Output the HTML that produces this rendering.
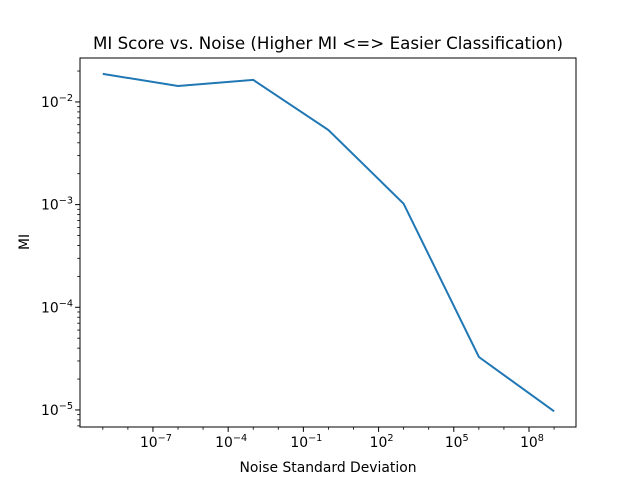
<!DOCTYPE html>
<html><head><meta charset="utf-8"><style>
body{margin:0;background:#fff;}
svg text{font-family:"DejaVu Sans","Liberation Sans",sans-serif;fill:#000;}
</style></head><body>
<svg id="chart" width="640" height="480" xmlns="http://www.w3.org/2000/svg">
<rect width="640" height="480" fill="#fff"/>
<text x="328" y="49" font-size="16.7" text-anchor="middle">MI Score vs. Noise (Higher MI &lt;=&gt; Easier Classification)</text>
<g id="ticks"></g>
<polyline id="line" fill="none" stroke="#1f77b4" stroke-width="2"/>
<rect x="80" y="58" width="496" height="369" fill="none" stroke="#000" stroke-width="1"/>
<text x="328" y="472" font-size="13.9" text-anchor="middle">Noise Standard Deviation</text>
<text transform="translate(29,242) rotate(-90)" font-size="13.9" text-anchor="middle">MI</text>
</svg>
<script>
const noiseStd=[1e-9,1e-6,1e-3,1,1e3,1e6,1e9];
const miValues=[0.01875,0.0143,0.0164,0.00533,0.00102,3.28e-5,0.97e-5];
const xTickExps=[-7,-4,-1,2,5,8];
const yTickExps=[-5,-4,-3,-2];
const X0=80,X1=576,Y0=58,Y1=427;
const xmin=-9.91,xmax=9.875,ymin=-5.166,ymax=-1.572;
function xs(v){return X0+(Math.log10(v)-xmin)/(xmax-xmin)*(X1-X0);}
function ys(v){return Y1-(Math.log10(v)-ymin)/(ymax-ymin)*(Y1-Y0);}
const NS="http://www.w3.org/2000/svg";
const g=document.getElementById('ticks');
function mk(t,a){const e=document.createElementNS(NS,t);for(const k in a)e.setAttribute(k,a[k]);g.appendChild(e);return e;}
function label(txt,x,y,anchor){
  const t=mk('text',{x:x,y:y,'font-size':13.9,'text-anchor':anchor});
  
  
  const b=document.createElementNS(NS,'tspan');b.textContent='10';t.appendChild(b);
  const s=document.createElementNS(NS,'tspan');s.setAttribute('dy','-6');s.setAttribute('font-size','9.7');s.textContent=txt;t.appendChild(s);
}
xTickExps.forEach(e=>{
  const x=xs(Math.pow(10,e));
  const l=mk('line',{x1:x,x2:x,y1:Y1,y2:Y1+4.9,stroke:'#000','stroke-width':1});
  
  
  label(e<0?'\u2212'+(-e):''+e,x+3,Y1+20,'middle');
});
for(let e=-10;e<=10;e++){const x=xs(Math.pow(10,e));if(x>X0&&x<X1&&!xTickExps.includes(e)){const l=mk('line',{x1:x,x2:x,y1:Y1,y2:Y1+2.8,stroke:'#000','stroke-width':0.8});}}
yTickExps.forEach(e=>{
  const y=ys(Math.pow(10,e));
  const l=mk('line',{x1:X0-4.9,x2:X0,y1:y,y2:y,stroke:'#000','stroke-width':1});
  
  
  label('\u2212'+(-e),X0-7,y+5,'end');
});
for(let e=-6;e<=-1;e++)for(let m=2;m<10;m++){const v=m*Math.pow(10,e);const y=ys(v);if(y>Y0&&y<Y1){const l=mk('line',{x1:X0-2.8,x2:X0,y1:y,y2:y,stroke:'#000','stroke-width':0.8});}}
document.getElementById('line').setAttribute('points',noiseStd.map((v,i)=>xs(v).toFixed(1)+','+ys(miValues[i]).toFixed(1)).join(' '));
</script>
</body></html>
